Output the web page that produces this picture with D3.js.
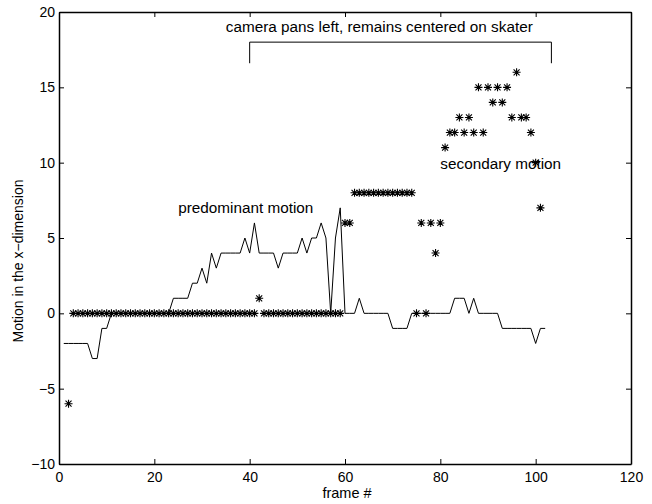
<!DOCTYPE html>
<html>
<head>
<meta charset="utf-8">
<script src="https://cdn.jsdelivr.net/npm/d3@7"></script>
<style>
    body { margin: 0; background: #fff; }
    svg { display: block; font-family: "Liberation Sans", Arial, Helvetica, sans-serif; }
</style>
</head>
<body>
<div class="motion-chart"></div>
<script>
// solid line, frames 1..102
const lineStart = 1
const predominant = [
    -2, -2, -2, -2, -2, -2, -3, -3, -1, -1,
    0, 0, 0, 0, 0, 0, 0, 0, 0, 0,
    0, 0, 0, 1, 1, 1, 1, 2, 2, 3,
    2, 4, 3, 4, 4, 4, 4, 4, 5, 4,
    6, 4, 4, 4, 4, 3, 4, 4, 4, 4,
    5, 4, 5, 5, 6, 5, 0, 5, 7, 0,
    0, 0, 1, 0, 0, 0, 0, 0, 0, -1,
    -1, -1, -1, 0, 0, 0, 0, 0, 0, 0,
    0, 0, 1, 1, 1, 0, 1, 0, 0, 0,
    0, 0, -1, -1, -1, -1, -1, -1, -1, -2,
    -1, -1
]
// asterisk markers, frames 2..101
const markerStart = 2
const secondary = [
    -6, 0, 0, 0, 0, 0, 0, 0, 0, 0,
    0, 0, 0, 0, 0, 0, 0, 0, 0, 0,
    0, 0, 0, 0, 0, 0, 0, 0, 0, 0,
    0, 0, 0, 0, 0, 0, 0, 0, 0, 0,
    1, 0, 0, 0, 0, 0, 0, 0, 0, 0,
    0, 0, 0, 0, 0, 0, 0, 0, 6, 6,
    8, 8, 8, 8, 8, 8, 8, 8, 8, 8,
    8, 8, 8, 0, 6, 0, 6, 4, 6, 11,
    12, 12, 13, 12, 13, 12, 15, 12, 15, 14,
    15, 14, 15, 13, 16, 13, 13, 12, 10, 7
]
const xTicks = [0, 20, 40, 60, 80, 100, 120]
const yTicks = [-10, -5, 0, 5, 10, 15, 20]
const xLabel = "frame #"
const yLabel = "Motion in the x\u2212dimension"
const panNote = "camera pans left, remains centered on skater"
const mainNote = "predominant motion"
const secondNote = "secondary motion"

let width = 652,
    height = 504,
    plotLeft = 59, plotRight = 631, plotTop = 12, plotBottom = 464

let svg = d3.select(".motion-chart")
    .append("svg")
    .attr("width", width)
    .attr("height", height)

svg.append("rect").attr("width", width).attr("height", height).attr("fill", "#fff")

let xScale = d3.scaleLinear().domain([0, 120]).range([plotLeft, plotRight])
let yScale = d3.scaleLinear().domain([-10, 20]).range([plotBottom, plotTop])
let fmt = d3.format("d")

//四条边的坐标轴，刻度朝内
svg.append("g")
    .attr("transform", `translate(0,${plotBottom})`)
    .call(d3.axisBottom(xScale).tickValues(xTicks).tickFormat(fmt).tickSizeInner(-5).tickSizeOuter(0).tickPadding(8))
svg.append("g")
    .attr("transform", `translate(0,${plotTop})`)
    .call(d3.axisTop(xScale).tickValues(xTicks).tickFormat("").tickSizeInner(-5).tickSizeOuter(0))
svg.append("g")
    .attr("transform", `translate(${plotLeft},0)`)
    .call(d3.axisLeft(yScale).tickValues(yTicks).tickFormat(fmt).tickSizeInner(-5).tickSizeOuter(0).tickPadding(4))
svg.append("g")
    .attr("transform", `translate(${plotRight},0)`)
    .call(d3.axisRight(yScale).tickValues(yTicks).tickFormat("").tickSizeInner(-5).tickSizeOuter(0))

svg.selectAll(".domain").attr("stroke", "#000").attr("stroke-width", 1.5)
svg.selectAll(".tick line").attr("stroke", "#000")
svg.selectAll(".tick text")
    .attr("fill", "#000")
    .attr("font-size", 14)
    .attr("font-family", "Liberation Sans, Arial, sans-serif")

svg.append("text")
    .attr("x", xScale(60) + 2)
    .attr("y", 498)
    .attr("text-anchor", "middle")
    .attr("font-size", 14.5)
    .text(xLabel)
svg.append("text")
    .attr("transform", "translate(23,261) rotate(-90)")
    .attr("text-anchor", "middle")
    .attr("font-size", 14)
    .text(yLabel)

//折线
let line = d3.line()
    .x((d, i) => xScale(lineStart + i))
    .y((d) => yScale(d))
svg.append("path")
    .datum(predominant)
    .attr("fill", "none")
    .attr("stroke", "#000")
    .attr("stroke-width", 1)
    .attr("stroke-linejoin", "miter")
    .attr("d", line)

//星号标记
let r = 4, q = 3
let star = `M${-r},0H${r}M0,${-r}V${r}M${-q},${-q}L${q},${q}M${-q},${q}L${q},${-q}`
svg.append("g")
    .selectAll("path")
    .data(secondary)
    .enter()
    .append("path")
    .attr("transform", (d, i) => `translate(${xScale(markerStart + i)},${yScale(d)})`)
    .attr("d", star)
    .attr("fill", "none")
    .attr("stroke", "#000")
    .attr("stroke-width", 1.1)

//注释
svg.append("path")
    .attr("fill", "none")
    .attr("stroke", "#000")
    .attr("d", `M${xScale(40)},${yScale(16.6)}V${yScale(18)}H${xScale(103.3)}V${yScale(16.6)}`)
svg.append("text")
    .attr("x", xScale(35))
    .attr("y", yScale(19) + 5)
    .attr("font-size", 15.3)
    .text(panNote)
svg.append("text")
    .attr("x", xScale(25))
    .attr("y", yScale(7) + 5)
    .attr("font-size", 15.3)
    .text(mainNote)
svg.append("text")
    .attr("x", xScale(80))
    .attr("y", yScale(10) + 6)
    .attr("font-size", 15.3)
    .text(secondNote)
</script>
</body>
</html>
